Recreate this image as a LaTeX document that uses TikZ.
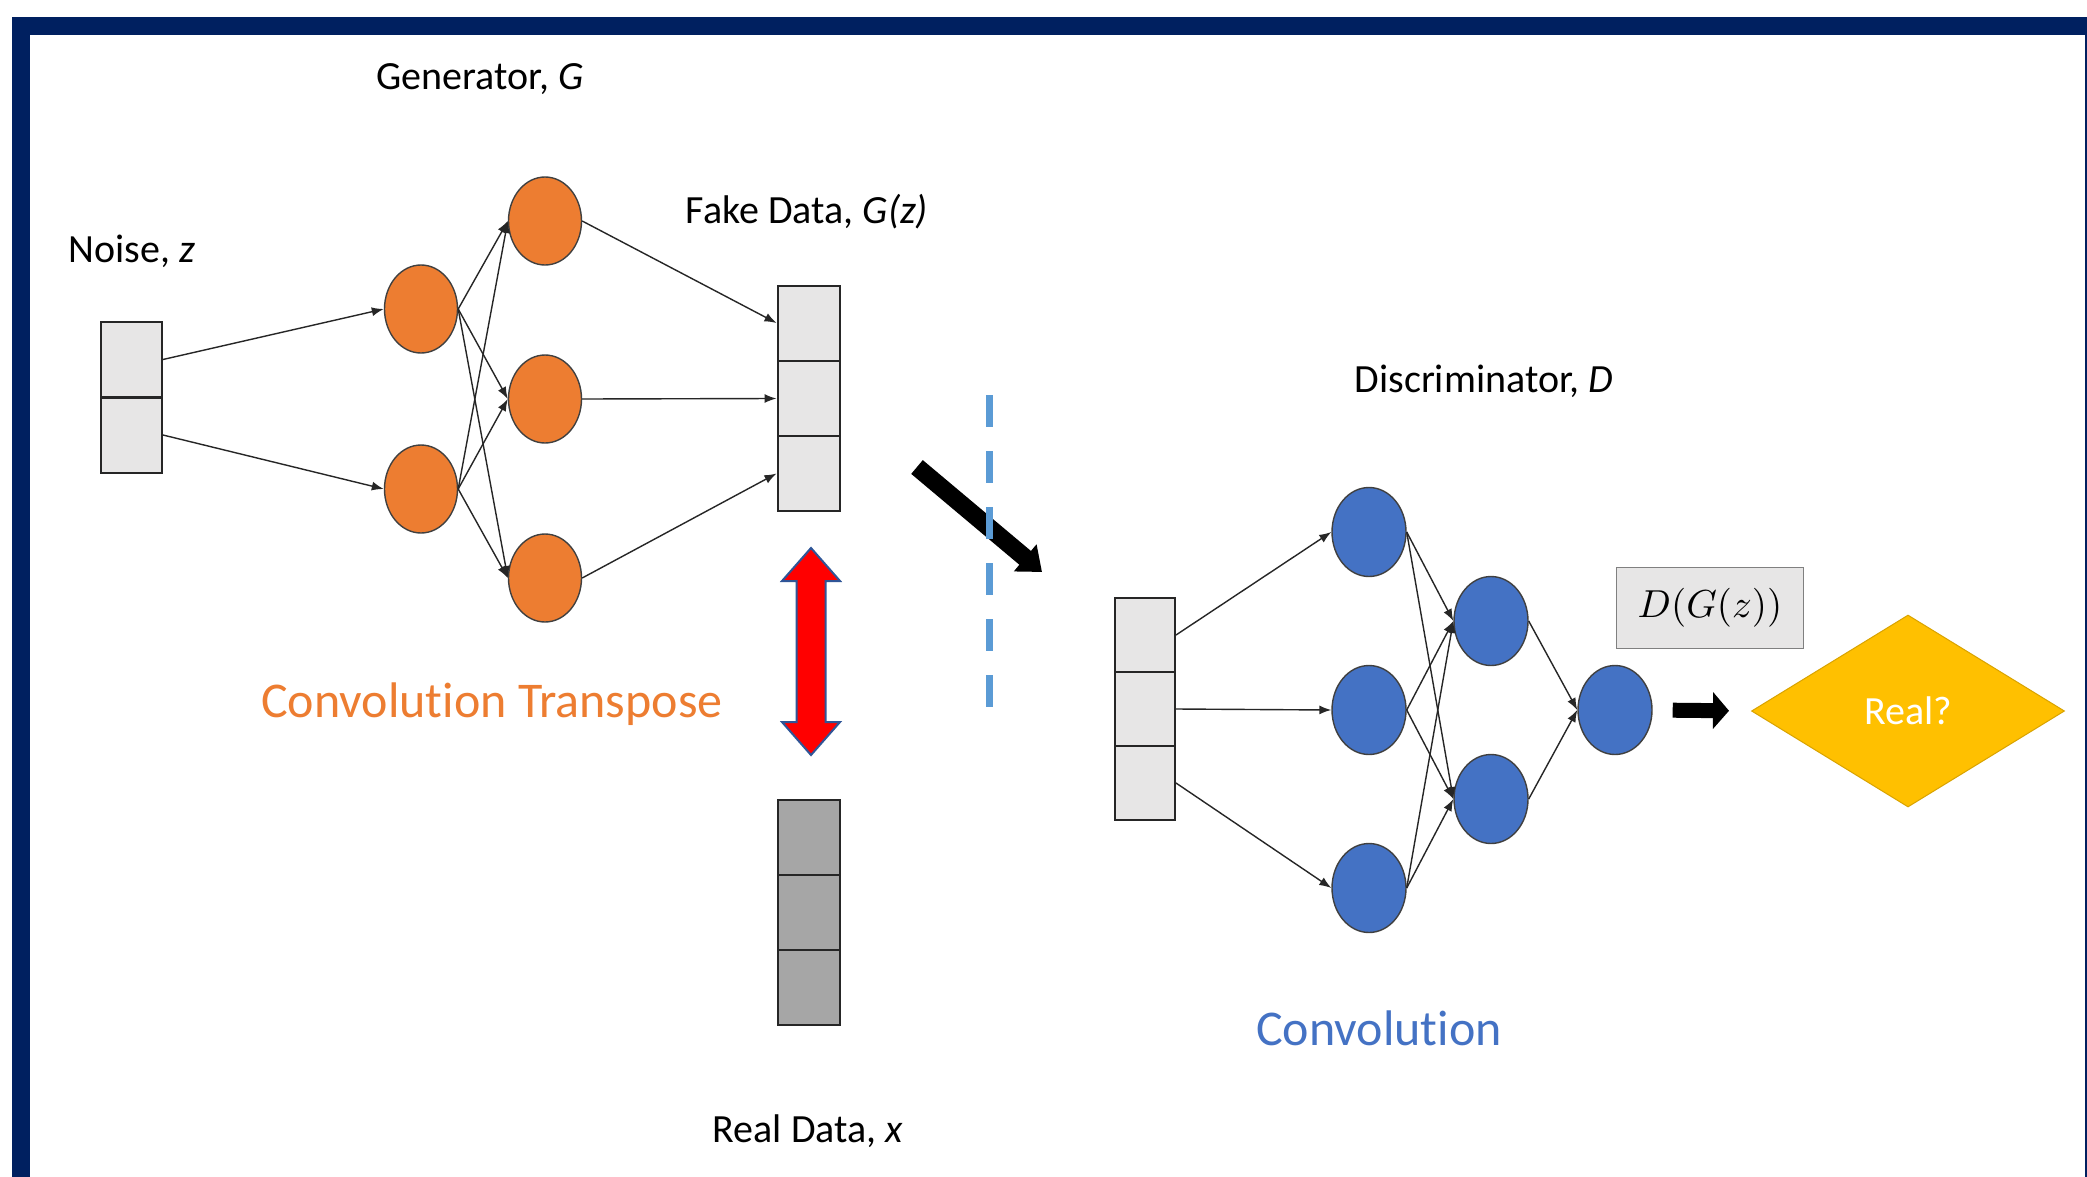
\documentclass[tikz,border=0pt]{standalone}
\usepackage{fontspec}
\usepackage{graphicx}
\setmainfont{Carlito}[Ligatures={NoCommon}]
\usetikzlibrary{shapes.geometric,arrows.meta}
\definecolor{navy}{HTML}{002060}
\definecolor{gorange}{HTML}{ED7D31}
\definecolor{dblue}{HTML}{4472C4}
\definecolor{cellgray}{HTML}{E7E6E6}
\definecolor{realgray}{HTML}{A6A6A6}
\definecolor{dashblue}{HTML}{5B9BD5}
\definecolor{gold}{HTML}{FFC000}
\definecolor{arrowblue}{HTML}{2F5597}
\begin{document}
\begin{tikzpicture}[x=0.5pt,y=-0.5pt,
  neuronO/.style={ellipse, draw=black!75, line width=0.7pt, fill=gorange, minimum width=36.5pt, minimum height=44pt, inner sep=0pt},
  neuronB/.style={ellipse, draw=black!75, line width=0.7pt, fill=dblue, minimum width=37pt, minimum height=44.5pt, inner sep=0pt},
  cell/.style={rectangle, draw=black!85, line width=1pt, fill=cellgray, minimum width=31pt, minimum height=37.5pt, inner sep=0pt},
  rcell/.style={cell, fill=realgray},
  link/.style={draw=black!85, line width=0.7pt, -{Latex[length=6pt,width=4.5pt]}},
  lbl/.style={anchor=base, inner sep=0pt, font=\fontsize{20}{24}\selectfont},
  biglbl/.style={anchor=base, inner sep=0pt, font=\fontsize{25}{30}\selectfont},
]
\useasboundingbox (0,0) rectangle (2087,1177);
% frame
\fill[navy] (12,17) rectangle (2087,1177);
\fill[white] (30,35) rectangle (2085,1177);

% labels
\node[lbl] (tgen) at (480,90) {Generator, \textit{G}};
\node[lbl] (tnoise) at (132,262) {Noise, \textit{z}};
\node[lbl] (tfake) at (807,223) {Fake Data, \textit{G(z)}};
\node[lbl] (tdisc) at (1484,392) {Discriminator, \textit{D}};
\node[lbl] (treal) at (808,1142) {Real Data, \textit{x}};
\node[biglbl, text=gorange] (tct) at (492,717) {Convolution Transpose};
\node[biglbl, text=dblue] (tconv) at (1379,1045) {Convolution};

% noise
\node[cell, minimum width=30.5pt] (n1) at (131.5,359.5) {};
\node[cell, minimum width=30.5pt] (n2) at (131.5,435) {};

% generator
\node[neuronO] (g1) at (421,309) {};
\node[neuronO] (g2) at (421,489) {};
\node[neuronO] (h1) at (545,221) {};
\node[neuronO] (h2) at (545,399) {};
\node[neuronO] (h3) at (545,578) {};

% fake data
\node[cell] (f1) at (808.5,323) {};
\node[cell] (f2) at (808.5,398.5) {};
\node[cell] (f3) at (808.5,473.5) {};

% real data
\node[rcell] (r1) at (808.5,837.5) {};
\node[rcell] (r2) at (808.5,912.5) {};
\node[rcell] (r3) at (808.5,987) {};

% discriminator input
\node[cell, minimum width=30pt, minimum height=37pt] (i1) at (1145,635) {};
\node[cell, minimum width=30pt, minimum height=37pt] (i2) at (1145,709) {};
\node[cell, minimum width=30pt, minimum height=37pt] (i3) at (1145,783) {};

% discriminator neurons
\node[neuronB] (d1) at (1369,532) {};
\node[neuronB] (d2) at (1369,710) {};
\node[neuronB] (d3) at (1369,888) {};
\node[neuronB] (e1) at (1491,621) {};
\node[neuronB] (e2) at (1491,799) {};
\node[neuronB] (o) at (1615,710) {};

% D(G(z)) box
\node[rectangle, draw=black!50, line width=0.9pt, fill=cellgray, minimum width=93.5pt, minimum height=40.5pt, inner sep=0pt] (dgz) at (1710,608) {\scalebox{1.95}{$D(G(z))$}};

% decision diamond
\node[diamond, fill=gold, draw=gold!85!black, line width=0.5pt, minimum width=156.5pt, minimum height=96pt, inner sep=0pt, text=white, font=\fontsize{20}{24}\selectfont] (real) at (1908,711) {Real?};

% generator links
\draw[link] (n1.east) -- (g1.west);
\draw[link] (n2.east) -- (g2.west);
\foreach \a in {g1,g2} \foreach \b in {h1,h2,h3} \draw[link] (\a.east) -- (\b.west);
\draw[link] (h1.east) -- (f1.west);
\draw[link] (h2.east) -- (f2.west);
\draw[link] (h3.east) -- (f3.west);

% discriminator links
\draw[link] (i1.east) -- (d1.west);
\draw[link] (i2.east) -- (d2.west);
\draw[link] (i3.east) -- (d3.west);
\foreach \a in {d1,d2,d3} \foreach \b in {e1,e2} \draw[link] (\a.east) -- (\b.west);
\draw[link] (e1.east) -- (o.west);
\draw[link] (e2.east) -- (o.west);

% output arrow
\draw[line width=7.5pt, -{Triangle[length=8pt,width=18pt]}, shorten <=10pt, shorten >=11pt] (o.east) -- (real.west);

% red double arrow
\filldraw[fill=red, draw=arrowblue, line width=1pt, line join=miter]
  (811,548) -- (840,581) -- (825.5,581) -- (825.5,722) -- (840,722) -- (811,755)
  -- (782,722) -- (796.5,722) -- (796.5,581) -- (782,581) -- cycle;

% black diagonal arrow
\coordinate (ba1) at (917,467);
\coordinate (ba2) at (1042,572);
\draw[line width=9pt, -{Triangle[length=11pt,width=17pt]}] (ba1) -- (ba2);

% dashed separator
\coordinate (ds1) at (989,395);
\coordinate (ds2) at (989,712);
\draw[dashblue, line width=3.5pt, dash pattern=on 16pt off 12pt] (ds1) -- (ds2);
\end{tikzpicture}
\end{document}
